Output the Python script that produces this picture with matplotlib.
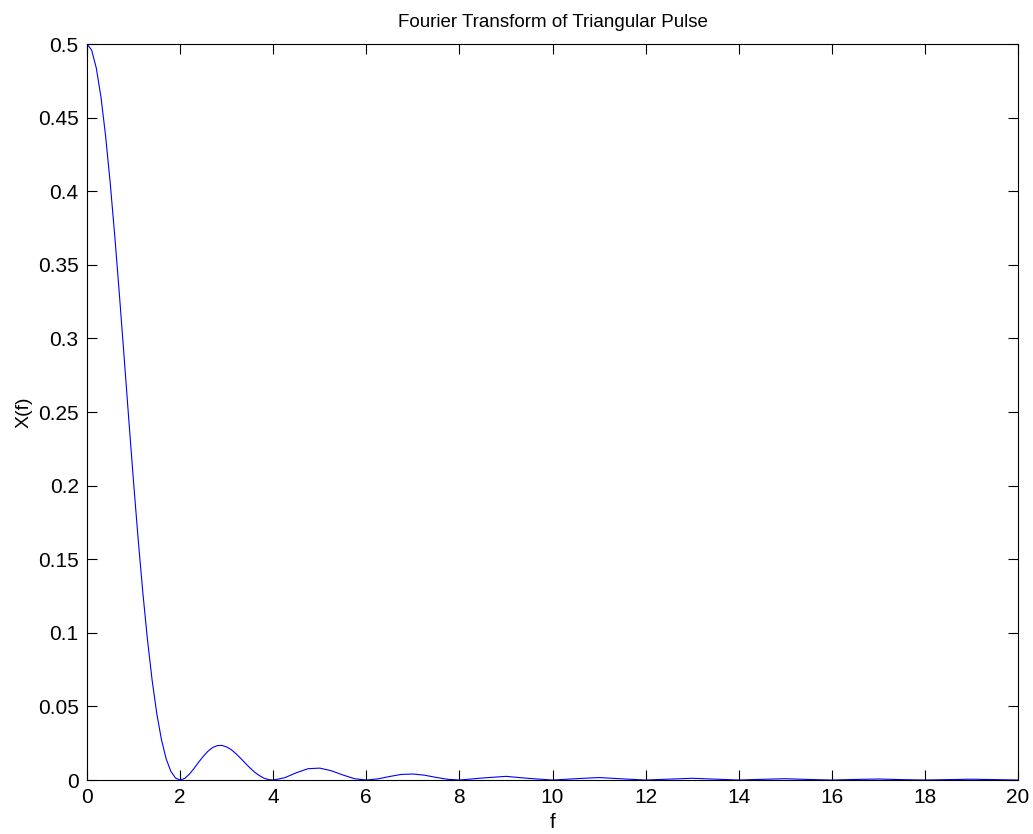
import matplotlib
matplotlib.use("Agg")
import matplotlib.pyplot as plt

# Values
f = [0, 0.1, 0.2, 0.3, 0.4, 0.5, 0.6, 0.7, 0.8, 0.9, 1.0,
     1.1, 1.2, 1.3, 1.4, 1.5, 1.6, 1.7, 1.8, 1.9, 2.0,
     2.1, 2.2, 2.3, 2.4, 2.5, 2.6, 2.7, 2.8, 2.9, 3.0,
     3.1, 3.2, 3.3, 3.4, 3.5, 3.6, 3.7, 3.8, 3.9, 4.0,
     4.25, 4.5, 4.75, 5.0, 5.25, 5.5, 5.75, 6.0,
     6.25, 6.5, 6.75, 7.0, 7.25, 7.5, 7.75, 8.0,
     8.5, 9.0, 9.5, 10.0, 10.5, 11.0, 11.5, 12.0,
     12.5, 13.0, 13.5, 14.0, 14.5, 15.0, 15.5, 16.0,
     16.5, 17.0, 17.5, 18.0, 18.5, 19.0, 19.5, 20.0]
Xf = [0.5, 0.4959, 0.4837, 0.4641, 0.4376, 0.4053, 0.3684, 0.3283, 0.2864, 0.2441, 0.2026,
      0.1634, 0.1273, 0.0952, 0.0677, 0.0450, 0.0274, 0.0145, 0.0060, 0.0014, 0.0,
      0.0011, 0.0040, 0.0079, 0.0122, 0.0162, 0.0196, 0.0221, 0.0234, 0.0235, 0.0225,
      0.0206, 0.0179, 0.0148, 0.0115, 0.0083, 0.0054, 0.0031, 0.0013, 0.0003, 0.0,
      0.0016, 0.0050, 0.0077, 0.0081, 0.0063, 0.0034, 0.0009, 0.0,
      0.0008, 0.0024, 0.0038, 0.0041, 0.0033, 0.0018, 0.0005, 0.0,
      0.0014, 0.0025, 0.0011, 0.0, 0.0009, 0.0017, 0.0008, 0.0,
      0.0006, 0.0012, 0.0006, 0.0, 0.0005, 0.0009, 0.0004, 0.0,
      0.0004, 0.0007, 0.0003, 0.0, 0.0003, 0.00056, 0.0003, 0.0]

xticks = list(range(0, 21, 2))
yticks = [0, 0.05, 0.1, 0.15, 0.2, 0.25, 0.3, 0.35, 0.4, 0.45, 0.5]
ytick_labels = ["0", "0.05", "0.1", "0.15", "0.2", "0.25", "0.3", "0.35", "0.4", "0.45", "0.5"]

plt.rcParams['font.family'] = ['Liberation Sans', 'DejaVu Sans']

fig = plt.figure(figsize=(10.33, 8.34), dpi=100)
ax = fig.add_axes([0.0842, 0.0647, 0.9013, 0.8825])
ax.plot(f, Xf, color="#0000ff", linewidth=0.8)

ax.set_xlim(0, 20)
ax.set_ylim(0, 0.5)
ax.set_xticks(xticks)
ax.set_yticks(yticks)
ax.set_yticklabels(ytick_labels)
ax.tick_params(direction="in", top=True, right=True, labelsize=15, length=7, width=0.8)
ax.tick_params(axis="x", pad=6)
ax.tick_params(axis="y", pad=6)
for s in ax.spines.values():
    s.set_linewidth(0.8)

ax.set_title("Fourier Transform of Triangular Pulse", fontsize=13.5, pad=12)
ax.set_xlabel("f", fontsize=15, labelpad=4)
ax.set_ylabel("X(f)", fontsize=14, labelpad=4)

fig.savefig("out.png", dpi=100)
